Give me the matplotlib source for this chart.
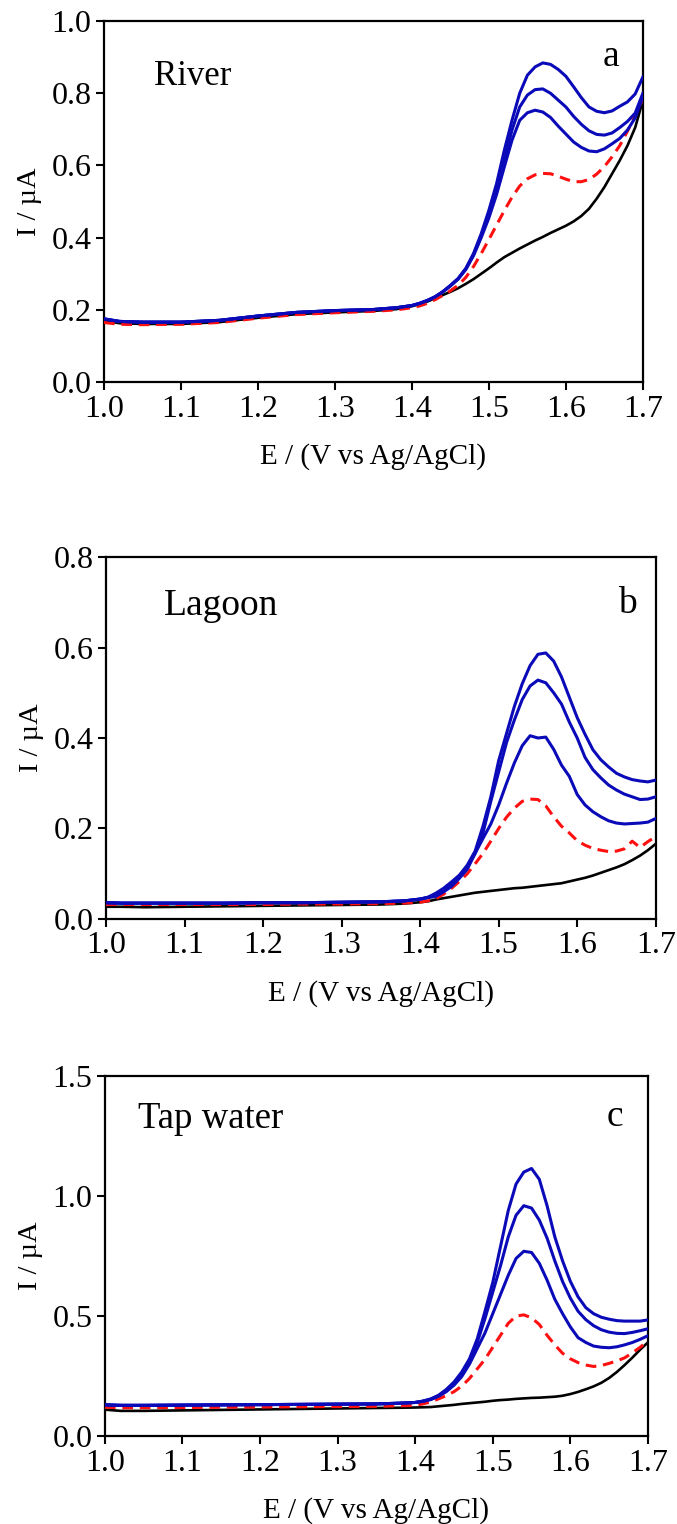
import matplotlib
matplotlib.use("Agg")
import matplotlib.pyplot as plt

# --- potential grid (V vs Ag/AgCl), shared by all curves ---
E = [1.00, 1.02, 1.05, 1.10, 1.15, 1.20, 1.25, 1.30, 1.35, 1.38,
     1.40, 1.41, 1.42, 1.43, 1.44, 1.45, 1.46, 1.47, 1.48, 1.49,
     1.50, 1.51, 1.52, 1.53, 1.54, 1.55, 1.56, 1.57, 1.58, 1.59,
     1.60, 1.61, 1.62, 1.63, 1.64, 1.65, 1.66, 1.67, 1.68, 1.69, 1.70]

# --- panel a: River (current, uA) ---
river_black = [0.170, 0.163, 0.161, 0.161, 0.166, 0.178, 0.188, 0.193, 0.197, 0.202,
               0.210, 0.216, 0.223, 0.232, 0.241, 0.250, 0.260, 0.272, 0.285, 0.300,
               0.315, 0.331, 0.346, 0.358, 0.370, 0.381, 0.392, 0.402, 0.413, 0.423,
               0.433, 0.445, 0.460, 0.480, 0.508, 0.540, 0.577, 0.614, 0.655, 0.705, 0.780]
river_red = [0.165, 0.160, 0.159, 0.160, 0.165, 0.177, 0.187, 0.192, 0.196, 0.200,
             0.206, 0.211, 0.218, 0.228, 0.240, 0.253, 0.268, 0.290, 0.320, 0.356,
             0.395, 0.435, 0.475, 0.512, 0.543, 0.563, 0.574, 0.578, 0.577, 0.570,
             0.562, 0.555, 0.555, 0.561, 0.576, 0.597, 0.624, 0.655, 0.695, 0.738, 0.785]
river_blue1 = [0.175, 0.168, 0.166, 0.166, 0.171, 0.183, 0.193, 0.198, 0.201, 0.206,
               0.212, 0.218, 0.226, 0.236, 0.250, 0.266, 0.285, 0.312, 0.350, 0.400,
               0.455, 0.520, 0.596, 0.670, 0.725, 0.746, 0.753, 0.748, 0.733, 0.709,
               0.687, 0.665, 0.650, 0.640, 0.638, 0.646, 0.660, 0.675, 0.698, 0.732, 0.790]
river_blue2 = [0.175, 0.168, 0.166, 0.166, 0.171, 0.183, 0.193, 0.198, 0.201, 0.206,
               0.212, 0.218, 0.226, 0.236, 0.250, 0.267, 0.286, 0.313, 0.353, 0.405,
               0.465, 0.535, 0.615, 0.698, 0.762, 0.795, 0.810, 0.812, 0.800, 0.781,
               0.762, 0.736, 0.714, 0.696, 0.686, 0.684, 0.690, 0.705, 0.722, 0.745, 0.800]
river_blue3 = [0.175, 0.168, 0.166, 0.166, 0.171, 0.183, 0.193, 0.198, 0.201, 0.206,
               0.212, 0.218, 0.226, 0.236, 0.250, 0.268, 0.287, 0.315, 0.356, 0.411,
               0.476, 0.550, 0.642, 0.725, 0.800, 0.850, 0.873, 0.884, 0.880, 0.866,
               0.847, 0.818, 0.788, 0.762, 0.750, 0.746, 0.751, 0.764, 0.776, 0.798, 0.845]

# --- panel b: Lagoon ---
lagoon_black = [0.027, 0.027, 0.026, 0.027, 0.028, 0.029, 0.030, 0.031, 0.032, 0.034,
                0.037, 0.039, 0.043, 0.046, 0.049, 0.052, 0.055, 0.058, 0.060, 0.062,
                0.064, 0.066, 0.068, 0.069, 0.071, 0.073, 0.075, 0.077, 0.079, 0.083,
                0.087, 0.091, 0.096, 0.102, 0.108, 0.114, 0.121, 0.130, 0.140, 0.152, 0.166]
lagoon_red = [0.032, 0.032, 0.032, 0.032, 0.032, 0.032, 0.033, 0.033, 0.034, 0.035,
              0.037, 0.040, 0.045, 0.055, 0.068, 0.083, 0.100, 0.122, 0.145, 0.172,
              0.200, 0.225, 0.245, 0.260, 0.265, 0.264, 0.250, 0.226, 0.205, 0.190,
              0.173, 0.163, 0.156, 0.152, 0.149, 0.150, 0.155, 0.172, 0.158, 0.171, 0.182]
lagoon_blue1 = [0.036, 0.035, 0.035, 0.035, 0.035, 0.036, 0.036, 0.037, 0.038, 0.040,
                0.044, 0.047, 0.050, 0.060, 0.072, 0.090, 0.110, 0.145, 0.178, 0.210,
                0.252, 0.300, 0.345, 0.383, 0.405, 0.400, 0.402, 0.375, 0.340, 0.315,
                0.275, 0.252, 0.237, 0.226, 0.217, 0.212, 0.210, 0.211, 0.212, 0.214, 0.222]
lagoon_blue2 = [0.036, 0.035, 0.035, 0.035, 0.035, 0.036, 0.036, 0.037, 0.038, 0.040,
                0.044, 0.048, 0.055, 0.065, 0.078, 0.093, 0.115, 0.145, 0.190, 0.260,
                0.325, 0.390, 0.440, 0.485, 0.515, 0.528, 0.522, 0.500, 0.475, 0.435,
                0.400, 0.357, 0.330, 0.312, 0.296, 0.285, 0.276, 0.270, 0.264, 0.265, 0.270]
lagoon_blue3 = [0.036, 0.035, 0.035, 0.035, 0.035, 0.036, 0.036, 0.037, 0.038, 0.040,
                0.044, 0.048, 0.057, 0.068, 0.082, 0.097, 0.119, 0.150, 0.205, 0.270,
                0.350, 0.410, 0.470, 0.520, 0.560, 0.585, 0.588, 0.570, 0.535, 0.490,
                0.445, 0.408, 0.374, 0.352, 0.336, 0.322, 0.314, 0.308, 0.305, 0.303, 0.307]

# --- panel c: Tap water ---
tap_black = [0.110, 0.105, 0.105, 0.107, 0.109, 0.111, 0.113, 0.115, 0.117, 0.118,
             0.119, 0.120, 0.121, 0.124, 0.127, 0.130, 0.134, 0.137, 0.140, 0.143,
             0.147, 0.150, 0.152, 0.155, 0.157, 0.159, 0.160, 0.162, 0.164, 0.168,
             0.175, 0.184, 0.195, 0.207, 0.222, 0.242, 0.267, 0.296, 0.327, 0.360, 0.390]
tap_red = [0.120, 0.118, 0.118, 0.119, 0.120, 0.121, 0.122, 0.123, 0.124, 0.126,
           0.128, 0.134, 0.142, 0.155, 0.168, 0.185, 0.208, 0.240, 0.280, 0.320,
           0.370, 0.420, 0.470, 0.500, 0.505, 0.493, 0.465, 0.420, 0.380, 0.345,
           0.322, 0.306, 0.296, 0.290, 0.294, 0.303, 0.313, 0.326, 0.347, 0.370, 0.396]
tap_blue1 = [0.130, 0.128, 0.128, 0.129, 0.130, 0.131, 0.132, 0.133, 0.134, 0.137,
             0.140, 0.145, 0.152, 0.166, 0.185, 0.212, 0.248, 0.300, 0.365, 0.430,
             0.510, 0.590, 0.670, 0.740, 0.770, 0.765, 0.720, 0.650, 0.570, 0.510,
             0.455, 0.410, 0.390, 0.375, 0.370, 0.368, 0.372, 0.380, 0.390, 0.403, 0.418]
tap_blue2 = [0.130, 0.128, 0.128, 0.129, 0.130, 0.131, 0.132, 0.133, 0.134, 0.137,
             0.140, 0.145, 0.153, 0.167, 0.187, 0.215, 0.253, 0.310, 0.390, 0.490,
             0.600, 0.710, 0.830, 0.920, 0.960, 0.950, 0.900, 0.825, 0.730, 0.644,
             0.575, 0.520, 0.485, 0.460, 0.443, 0.433, 0.428, 0.427, 0.432, 0.439, 0.447]
tap_blue3 = [0.130, 0.128, 0.128, 0.129, 0.130, 0.131, 0.132, 0.133, 0.134, 0.137,
             0.140, 0.146, 0.155, 0.170, 0.194, 0.225, 0.267, 0.322, 0.405, 0.520,
             0.640, 0.790, 0.940, 1.050, 1.100, 1.115, 1.070, 0.960, 0.830, 0.730,
             0.645, 0.580, 0.535, 0.510, 0.495, 0.487, 0.481, 0.479, 0.479, 0.479, 0.484]

panels = [
    ("River", "a", [0.0, 1.0], [0.0, 0.2, 0.4, 0.6, 0.8, 1.0],
     river_black, river_red, [river_blue1, river_blue2, river_blue3]),
    ("Lagoon", "b", [0.0, 0.8], [0.0, 0.2, 0.4, 0.6, 0.8],
     lagoon_black, lagoon_red, [lagoon_blue1, lagoon_blue2, lagoon_blue3]),
    ("Tap water", "c", [0.0, 1.5], [0.0, 0.5, 1.0, 1.5],
     tap_black, tap_red, [tap_blue1, tap_blue2, tap_blue3]),
]

# axes rectangles in figure fractions (left, bottom, width, height)
rects = [
    [0.1536, 0.7493, 0.7960, 0.2369],
    [0.1566, 0.3970, 0.8120, 0.2375],
    [0.1550, 0.0577, 0.8020, 0.2362],
]
# (x, baseline y, size) for sample name, then for panel letter
name_style = [(0.092, 0.823, 25), (0.106, 0.840, 27), (0.060, 0.857, 26.5)]
letter_style = [(0.940, 0.876, 27), (0.949, 0.845, 27), (0.939, 0.861, 27)]

plt.rcParams['font.family'] = ['Liberation Serif', 'DejaVu Serif']

fig = plt.figure(figsize=(6.77, 15.24), dpi=100)
x_ticks = [1.0, 1.1, 1.2, 1.3, 1.4, 1.5, 1.6, 1.7]

for i, (name, letter, ylim, yticks, black, red, blues) in enumerate(panels):
    ax = fig.add_axes(rects[i])
    ax.plot(E, black, color='black', linewidth=1.9, zorder=3)
    ax.plot(E, red, color='#ff1010', linewidth=2.2, linestyle=(0, (3.5, 2.2)), zorder=4)
    for b in blues:
        ax.plot(E, b, color='#0a0ab8', linewidth=2.2, zorder=5)

    ax.set_xlim(1.0, 1.7)
    ax.set_ylim(*ylim)
    ax.set_xticks(x_ticks)
    ax.set_xticklabels(["{:.1f}".format(t) for t in x_ticks])
    ax.set_yticks(yticks)
    ax.set_yticklabels(["{:.1f}".format(t) for t in yticks])
    ax.tick_params(direction='out', length=6, width=1.5, labelsize=23, pad=3)
    for s in ax.spines.values():
        s.set_linewidth(1.6)

    ax.set_xlabel("E / (V vs Ag/AgCl)", fontsize=21, labelpad=14)
    ax.set_ylabel("I / µA", fontsize=20.5, labelpad=7)

    nx, ny, ns = name_style[i]
    ax.text(nx, ny, name, transform=ax.transAxes, fontsize=ns,
            va='baseline', ha='left')
    lx, ly, ls = letter_style[i]
    ax.text(lx, ly, letter, transform=ax.transAxes, fontsize=ls,
            va='baseline', ha='center')

fig.savefig("out.png", dpi=100)
